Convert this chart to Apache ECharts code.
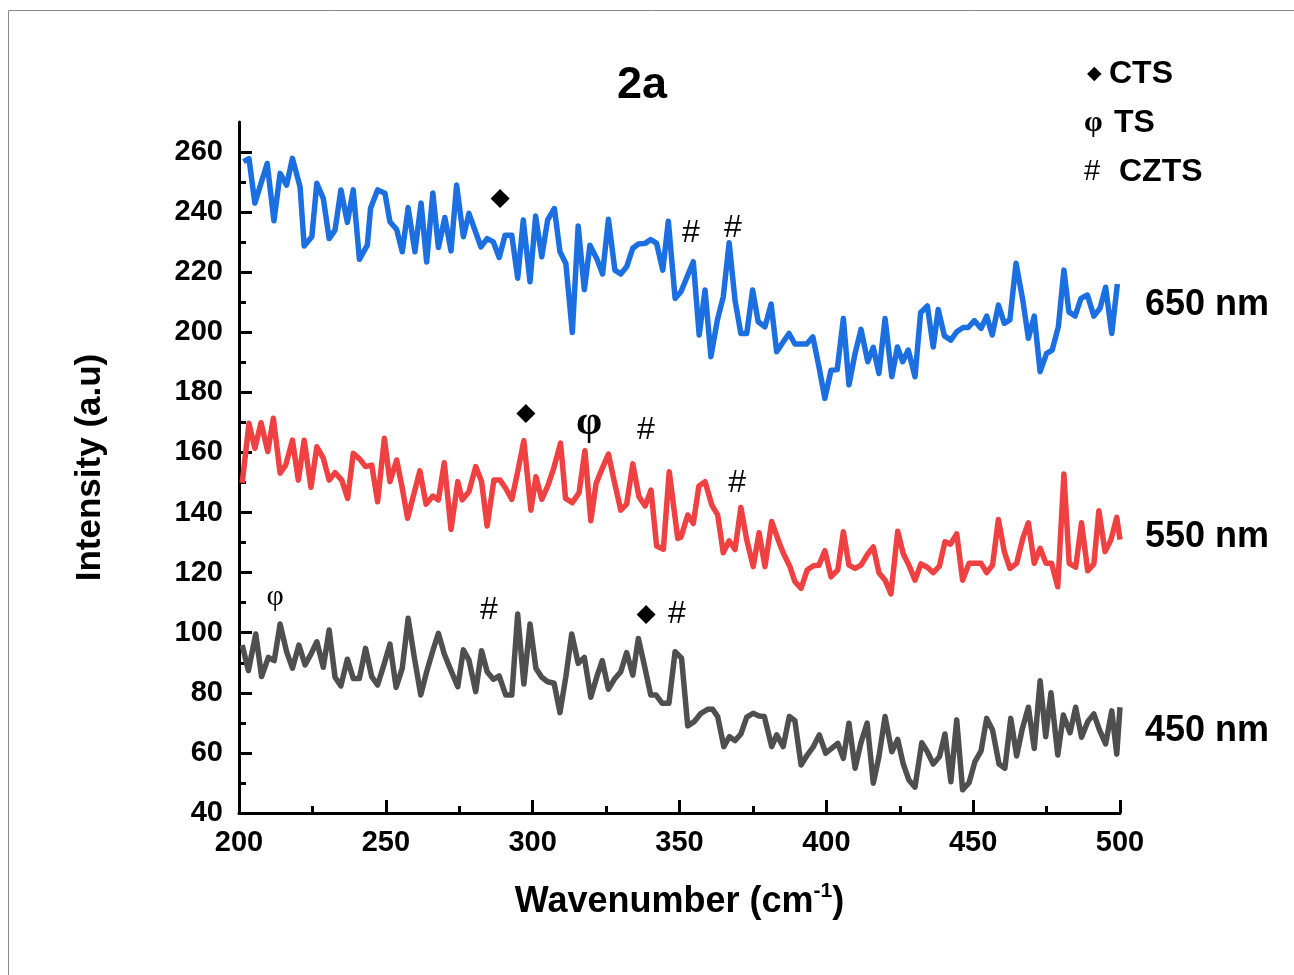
<!DOCTYPE html>
<html><head><meta charset="utf-8">
<script src="https://cdn.jsdelivr.net/npm/echarts@6/dist/echarts.min.js"></script>
<style>html,body{margin:0;padding:0;background:#fff}#c{width:1294px;height:975px}</style>
</head><body><div id="c"></div>
<script>
// ---- data (wavenumber, intensity) ----
const s650 = [[201.5,256.8],[203.4,257.8],[205.4,243],[209.6,256.2],[211.9,237.1],[214.0,252.9],[216.2,249],[218.2,257.9],[220.8,248.4],[222.2,228.7],[224.8,231.8],[226.5,249.6],[228.7,244.6],[230.7,231.2],[232.7,234],[234.7,247.4],[236.9,236.6],[238.9,247.4],[241.0,224.3],[243.7,229],[244.8,241.3],[247.2,247.4],[249.7,246.3],[251.4,236.8],[253.7,234.2],[255.6,226.8],[257.6,241.5],[259.9,226.8],[262.0,243],[263.9,223.4],[266.0,246.4],[267.9,228.2],[270.1,238.2],[272.2,227.1],[274.1,249],[276.4,231.8],[278.3,239.6],[282.4,228.4],[284.5,231.2],[286.6,230.1],[288.6,224.9],[290.6,232.3],[292.9,232.3],[294.9,218],[296.8,237.4],[299.1,216.8],[301.0,238.7],[303.1,225.1],[305.1,237.4],[307.4,241.2],[309.3,226.8],[311.3,222.9],[313.5,199.9],[315.5,235.4],[317.6,214.2],[319.5,229],[321.8,224.6],[323.8,219.4],[325.8,237.6],[328.0,220.7],[330.0,219.4],[332.0,221.8],[334.1,228],[336.0,229.4],[338.3,229.6],[340.2,230.9],[342.2,229.6],[344.3,220.7],[346.2,237],[348.5,211.3],[350.5,213.5],[354.7,223.5],[356.7,199.1],[358.7,214.1],[360.7,191.9],[362.9,204.1],[364.9,211.8],[366.9,229.8],[368.9,210.7],[370.9,199.6],[372.9,199.6],[374.9,214.1],[376.8,203.5],[379.1,201.8],[381.2,209.4],[383.1,193.5],[385.3,196.8],[387.3,199.6],[389.3,196.1],[393.3,196.1],[395.4,198.5],[397.5,188.5],[399.5,178],[401.6,187.4],[403.7,187.6],[405.8,204.6],[407.7,182.5],[409.8,193],[411.8,201],[414.1,190.2],[416.0,195],[417.9,186.3],[420.0,204.6],[422.3,185.2],[424.2,195.1],[426.0,190.2],[427.9,194.1],[430.2,185.2],[432.1,206.5],[434.4,208.8],[436.4,195.1],[438.1,207.6],[440.2,198.8],[442.4,197.4],[444.4,200.2],[446.6,201.6],[448.3,201.6],[450.4,203.9],[452.7,201.3],[454.6,205.4],[456.5,199.1],[458.6,209.1],[460.6,203],[462.5,204.1],[464.6,223],[466.9,210.7],[468.8,198],[470.8,205.4],[472.8,186.9],[475.0,193],[476.9,194.1],[479.0,201.8],[480.9,220.7],[482.6,206.8],[484.7,205.4],[486.7,211.3],[488.9,212.4],[491.1,205.4],[493.2,208],[495.1,215],[497.2,199.6],[499.1,216.1]];
const s550 = [[201.1,149.9],[203.4,169.7],[205.4,161.4],[207.5,169.9],[209.8,160.3],[211.7,171.4],[214.0,153.1],[215.9,155.8],[218.2,164.1],[220.2,150.8],[222.2,164.1],[224.5,148.4],[226.5,161.9],[228.7,158.1],[230.7,150.8],[232.7,153.3],[235.0,150.8],[237.0,144.7],[238.9,159.7],[241.2,157.7],[243.1,155.3],[245.2,155.8],[247.2,143.6],[249.5,164.7],[251.4,150.3],[253.7,157.5],[255.6,148.1],[257.4,138.1],[259.6,146.4],[261.6,153.9],[263.7,142.8],[266.0,145.5],[267.9,144.2],[269.9,156.6],[272.2,134.4],[274.5,150.3],[276.0,144.2],[278.3,146.9],[280.6,155.3],[282.6,150.3],[284.5,135.5],[286.8,150.8],[288.9,150.8],[290.8,148.1],[292.9,144.4],[294.9,153.6],[297.0,163.9],[299.4,140.8],[301.1,151.9],[303.1,144.4],[305.1,148.8],[307.0,154.2],[309.5,163.1],[311.2,144.7],[313.5,143.3],[315.8,146.6],[317.8,160.6],[319.8,137.3],[321.6,149.7],[323.7,154.7],[325.8,159.5],[327.8,150.3],[330.0,140.8],[332.0,142.8],[334.1,156.2],[336.2,145.3],[338.3,142.2],[340.3,147.5],[342.2,128.9],[344.5,127.8],[346.5,153.6],[349.4,131.4],[350.5,131.8],[352.8,139.2],[354.7,136.4],[356.6,148.8],[358.7,150.3],[361.0,142.5],[363.0,139.2],[364.9,126.6],[366.9,130.6],[368.9,127.7],[370.9,141.7],[372.9,130.9],[375.1,122],[377.1,133.3],[379.1,122],[381.4,137],[383.6,130.9],[385.3,126.6],[387.6,122],[389.3,117],[391.4,114.8],[393.5,120.9],[395.6,122.3],[397.5,122.5],[399.5,127.3],[401.6,118.6],[403.9,120.9],[405.8,133.6],[407.7,122.5],[409.8,121.4],[411.8,122.5],[414.1,126.2],[416.0,128.6],[417.9,120],[420.0,117.5],[422.0,112.9],[424.3,133.8],[426.2,126.2],[428.1,122.5],[430.2,117.5],[432.2,122.9],[434.4,121.8],[436.4,120],[438.5,122.2],[440.4,130.3],[442.3,129.5],[444.4,132.9],[446.4,117.5],[448.6,123.1],[452.7,123.1],[454.6,120],[456.6,122.5],[458.6,137.7],[460.6,127],[462.5,121.4],[464.8,123.1],[466.9,131.4],[468.8,136.6],[470.8,123.1],[472.8,128.1],[474.8,123.1],[476.7,123.1],[478.8,115.3],[480.9,152.8],[482.7,123.1],[484.9,121.8],[486.9,136.6],[489.0,120.6],[491.1,122.9],[492.8,140.6],[494.9,127],[496.9,130.9],[498.9,138.4],[500,131]];
const s450 = [[201.1,95.9],[203.2,87.4],[205.7,99.6],[207.7,85.4],[210.0,91.8],[212.0,90.7],[214.0,102.9],[216.2,93.7],[218.2,88.2],[220.4,95.9],[222.5,89.3],[224.5,92.9],[226.5,97],[228.7,88.5],[230.7,100.9],[232.7,85.2],[234.7,82.3],[236.9,91.2],[238.9,84.8],[241.0,84.8],[243.1,94.8],[245.2,85.4],[247.2,82.6],[249.5,89.8],[251.4,96.2],[253.5,81.8],[255.6,88.2],[257.6,104.8],[259.7,91.8],[261.9,79.3],[263.9,87],[266.0,94],[267.9,99.8],[269.9,92.9],[272.2,87.4],[274.5,82],[276.4,94.3],[278.3,90.9],[280.6,80.4],[282.6,94],[284.5,87],[286.6,84.5],[288.6,85.6],[290.8,79.3],[292.9,79.3],[294.9,106.2],[297.0,82.9],[299.1,102.9],[301.1,88.2],[303.1,85.2],[305.1,83.7],[307.3,83.2],[309.3,73.4],[311.3,85.4],[313.3,99.6],[315.5,89.8],[317.6,91.8],[319.8,78.5],[321.8,85.2],[323.7,90.7],[325.8,81.2],[327.8,84.5],[330.0,87],[332.0,93.4],[334.1,85.9],[336.0,98.1],[338.0,89.3],[340.2,79.3],[342.0,79.3],[344.1,76.5],[346.4,76.5],[348.5,93.7],[350.7,91.5],[352.8,69],[355.0,70.4],[357.3,73.2],[359.6,74.5],[361.3,74.5],[363.0,72.1],[365.1,62.1],[367.0,65.4],[368.9,64.1],[370.9,66.3],[372.9,71.9],[375.1,73.2],[377.1,72.3],[378.9,72.1],[381.4,62.1],[383.1,66],[385.3,62.1],[387.4,72.1],[389.3,70.7],[391.4,56],[393.5,59.3],[395.6,62.1],[397.6,66],[399.8,59.9],[401.8,61.5],[403.9,63.2],[405.8,58.2],[407.7,69.9],[409.8,54.9],[411.8,63.4],[413.9,69.9],[416.0,49.9],[417.9,58.7],[420.0,72.1],[422.3,60.4],[424.3,64.5],[426.2,56.3],[428.1,51],[430.2,48.6],[432.5,63.4],[434.4,60.4],[436.4,56.3],[438.5,58.7],[440.4,66.3],[442.4,50.4],[444.4,71],[446.4,47.7],[448.6,50.1],[450.6,57.1],[452.7,60.7],[454.6,71.5],[456.6,67.6],[458.8,56.3],[460.8,54.9],[462.8,71.5],[464.8,59],[466.7,67.9],[468.8,75.2],[470.8,61.5],[472.8,84],[474.7,65.4],[476.5,80],[478.8,59.3],[480.7,72.6],[483.0,66.7],[484.9,75.2],[486.9,65.2],[489.0,70.4],[491.1,73],[492.9,67.9],[495.1,63],[497.2,74],[498.9,59.6],[500,75.2]];
const seriesNames = ['650 nm', '550 nm', '450 nm'];
const xTicks = [200, 250, 300, 350, 400, 450, 500];
const yTicks = [40, 60, 80, 100, 120, 140, 160, 180, 200, 220, 240, 260];
const yMinorTicks = [50, 70, 90, 110, 130, 150, 170, 190, 210, 230, 250];
// peak markers: [wavenumber, intensity, symbol]
const annotations = [
  [288.9, 244.7, '◆'], [353.9, 233.0, '#'], [368.2, 234.7, '#'],
  [297.7, 173.1, '◆'], [319.2, 169.8, 'φ'], [338.6, 167.5, '#'], [369.6, 149.8, '#'],
  [212.3, 111.9, 'φ'], [285.1, 107.6, '#'], [338.6, 106.2, '◆'], [349.1, 106.2, '#']
];
const legendItems = [['◆', 'CTS'], ['φ', 'TS'], ['#', 'CZTS']];

// ---- styling ----
const FONT = '"Liberation Sans", Arial, sans-serif';
const colors = ['#1c6fe0', '#f04142', '#4f4f4f'];
const labelY = [305, 537, 731];
const symSize = { '◆': 25, '#': 32, 'φ': 30 };
const symFont = { '◆': '"DejaVu Sans", sans-serif', '#': FONT, 'φ': '"Liberation Serif", serif' };

const chart = echarts.init(document.getElementById('c'), null, { renderer: 'canvas' });

const lineSeries = [s650, s550, s450].map((d, i) => ({
  type: 'line', name: seriesNames[i], data: d, showSymbol: false, symbol: 'none',
  lineStyle: { color: colors[i], width: 5.5, join: 'round' }, z: 2, animation: false
}));

const annoSeries = {
  type: 'scatter', symbolSize: 0, z: 5, animation: false,
  itemStyle: { opacity: 1 },
  data: annotations.map((a, idx) => ({
    value: [a[0], a[1]],
    label: {
      show: true, position: 'inside', formatter: a[2], color: '#000', opacity: 1,
      fontSize: (idx === 4 ? 42 : symSize[a[2]]), fontFamily: symFont[a[2]],
      fontWeight: (idx === 4 ? 'bold' : 'normal')
    }
  }))
};

const graphics = [
  { type: 'rect', shape: { x: 8.5, y: 10.5, width: 1400, height: 1000 }, style: { fill: 'none', stroke: '#8a8a8a', lineWidth: 1 }, silent: true },
  { type: 'text', x: 642, y: 86, style: { text: '2a', font: 'bold 45px ' + FONT, fill: '#000', textAlign: 'center', textVerticalAlign: 'middle' } }
];
seriesNames.forEach((n, i) => {
  graphics.push({ type: 'text', x: 1145, y: labelY[i], style: { text: n, font: 'bold 36px ' + FONT, fill: '#000', textAlign: 'left', textVerticalAlign: 'middle' } });
});
const legX = [[1087, 1109], [1084, 1114], [1084, 1119]];
const legSym = [19, 30, 29];
legendItems.forEach((it, i) => {
  const y = 74 + i * 49;
  graphics.push({ type: 'text', x: legX[i][0], y: y, style: { text: it[0], font: (i === 1 ? 'bold ' : '') + legSym[i] + 'px ' + symFont[it[0]], fill: '#000', textAlign: 'left', textVerticalAlign: 'middle' } });
  graphics.push({ type: 'text', x: legX[i][1], y: y, style: { text: it[1], font: 'bold 32px ' + FONT, fill: '#000', textAlign: 'left', textVerticalAlign: 'middle' } });
});

const axisLineStyle = { color: '#000', width: 3 };
chart.setOption({
  backgroundColor: '#fff',
  animation: false,
  grid: { left: 239, right: 174, top: 122, bottom: 162, containLabel: false },
  xAxis: {
    type: 'value', min: 200, max: 500, interval: 50,
    axisLine: { show: true, lineStyle: axisLineStyle },
    axisTick: { show: true, inside: true, length: 13, lineStyle: axisLineStyle },
    minorTick: { show: true, splitNumber: 2, length: 7, lineStyle: axisLineStyle },
    splitLine: { show: false },
    axisLabel: { color: '#000', fontSize: 29, fontWeight: 'bold', fontFamily: FONT, margin: 15, customValues: xTicks },
    name: '{n|Wavenumber (cm}{s|-1}{n|)}',
    nameLocation: 'middle', nameGap: 68,
    nameTextStyle: {
      rich: {
        n: { fontSize: 36, fontWeight: 'bold', fontFamily: FONT, color: '#000', lineHeight: 42 },
        s: { fontSize: 21, fontWeight: 'bold', fontFamily: FONT, color: '#000', verticalAlign: 'top', lineHeight: 42 }
      }
    }
  },
  yAxis: [{
    type: 'value', min: 40, max: 270, interval: 20,
    axisLine: { show: true, lineStyle: axisLineStyle },
    axisTick: { show: true, inside: true, length: 13, lineStyle: axisLineStyle, customValues: yTicks },
    splitLine: { show: false },
    axisLabel: { color: '#000', fontSize: 29, fontWeight: 'bold', fontFamily: FONT, margin: 16, customValues: yTicks },
    name: 'Intensity (a.u)', nameLocation: 'middle', nameGap: 131, nameRotate: 90,
    nameTextStyle: { fontSize: 35, fontWeight: 'bold', fontFamily: FONT, color: '#000' }
  }, {
    type: 'value', min: 40, max: 270, interval: 10, position: 'left',
    axisLine: { show: false },
    axisTick: { show: true, inside: true, length: 7, lineStyle: axisLineStyle, customValues: yMinorTicks },
    axisLabel: { show: false },
    splitLine: { show: false }
  }],
  series: lineSeries.concat([annoSeries]),
  graphic: graphics
});
</script>
</body></html>
